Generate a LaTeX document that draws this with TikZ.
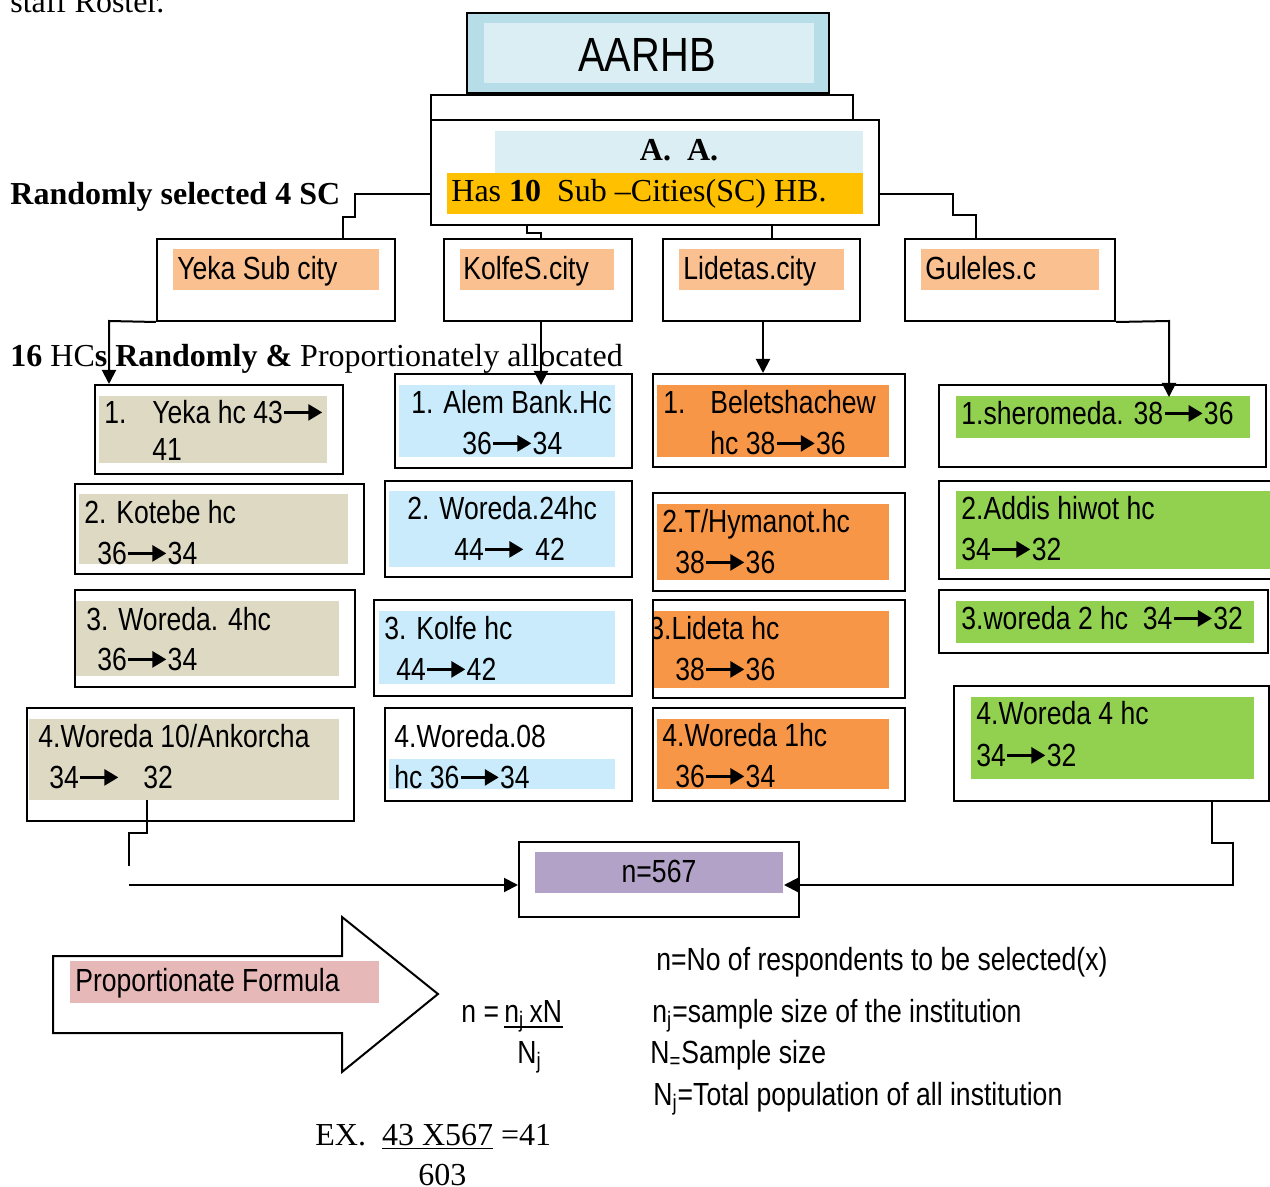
\documentclass[tikz,border=0pt]{standalone}
\usepackage{fontspec}
\setmainfont{Liberation Serif}
\newfontfamily\nar[FakeStretch=0.83]{Liberation Sans}
\usetikzlibrary{arrows.meta,fit}
\definecolor{aaout}{HTML}{B7DDE8}
\definecolor{aain}{HTML}{DAEEF3}
\definecolor{gold}{HTML}{FFC000}
\definecolor{peach}{HTML}{FAC090}
\definecolor{tan}{HTML}{DDD9C3}
\definecolor{lblue}{HTML}{C9EBFB}
\definecolor{orng}{HTML}{F79646}
\definecolor{grn}{HTML}{92D050}
\definecolor{purp}{HTML}{B2A2C7}
\definecolor{pink}{HTML}{E6B9B8}
\newcommand\harr{\tikz[baseline=-5.6pt]\draw[line width=1.4pt,-{Triangle[length=7pt,width=8pt]}] (0pt,0pt) -- (19pt,0pt);}
\newcommand\bx[5]{\node[boxst, fit={(#2,#3) (#4,#5)}] (#1) {};}
\newcommand\fl[5]{\fill[#1] (#2,#3) rectangle (#4,#5);}
\begin{document}
\begin{tikzpicture}[x=0.5pt,y=-0.5pt,
  boxst/.style={draw, line width=1pt, inner sep=0pt},
  txt/.style={anchor=base west, inner sep=0pt, yshift=-0.8pt, font=\nar\fontsize{16}{19}\selectfont},
  srf/.style={anchor=base west, inner sep=0pt, font=\fontsize{16}{19}\selectfont},
  conn/.style={line width=1pt},
  arr/.style={line width=1pt, -{Triangle[length=7pt,width=7pt]}}]
\useasboundingbox (0,0) rectangle (1270,1187);

% top texts
\node[srf] (roster) at (10,13) {staff Roster.};
\node[srf] (rsel) at (10,205) {\textbf{Randomly selected 4 SC}};
\node[srf] (hcs) at (10,367) {\textbf{16} HC\textbf{s Randomly \&} Proportionately allocated};

% AARHB
\node[boxst, fit={(431,95) (853,120)}] (back) {};
\node[boxst, fill=aaout, fit={(467,13) (829,93)}] (aarhb) {};
\fl{aain}{484}{23}{814}{83}
\node[txt, font=\nar\fontsize{24}{28}\selectfont] (aarhbt) at (578,70) {AARHB};

% A.A.
\node[boxst, fill=white, fit={(431,120) (879,225)}] (aa) {};
\fl{aain}{495}{131}{863}{173}
\fl{gold}{447}{173}{863}{214}
\node[srf, anchor=base] (aat) at (679,161) {\textbf{A.\ \ A.}};
\node[srf] (hast) at (451,202) {Has \textbf{10}\ \ Sub –Cities(SC) HB.};

% sub cities
\bx{yeka}{157}{239}{395}{321}
\fl{peach}{173}{249}{379}{290}
\node[txt] (yekat) at (177,278) {Yeka Sub city};
\bx{kolfe}{444}{239}{632}{321}
\fl{peach}{460}{249}{614}{290}
\node[txt] (kolfet) at (463,278) {KolfeS.city};
\bx{lidetas}{663}{239}{860}{321}
\fl{peach}{679}{249}{844}{290}
\node[txt] (lidetast) at (683,278) {Lidetas.city};
\bx{guleles}{905}{239}{1115}{321}
\fl{peach}{921}{249}{1099}{290}
\node[txt] (gulelest) at (925,278) {Guleles.c};

% column 1
\bx{hc11}{95}{385}{343}{474}
\fl{tan}{99}{396}{327}{463}
\node[txt] (a1) at (104,422) {1.};
\node[txt] (a2) at (152,422) {Yeka hc 43\harr};
\node[txt] (a3) at (152,459) {41};
\bx{hc12}{75}{484}{364}{574}
\fl{tan}{79}{494}{348}{564}
\node[txt] (b1) at (84,522) {2. Kotebe hc};
\node[txt] (b2) at (97,563) {36\harr34};
\bx{hc13}{75}{590}{355}{687}
\fl{tan}{76}{601}{339}{676}
\node[txt] (c1) at (86,629) {3. Woreda. 4hc};
\node[txt] (c2) at (97,669) {36\harr34};
\bx{hc14}{27}{708}{354}{821}
\fl{tan}{29}{719}{339}{800}
\node[txt] (d1) at (38,746) {4.Woreda 10/Ankorcha};
\node[txt] (d2) at (49,787) {34\harr};
\node[txt] (d3) at (143,787) {32};

% column 2
\bx{hc21}{395}{374}{632}{468}
\fl{lblue}{399}{385}{615}{457}
\node[txt] (e1) at (411,412) {1. Alem Bank.Hc};
\node[txt] (e2) at (462,453) {36\harr34};
\bx{hc22}{385}{481}{632}{577}
\fl{lblue}{389}{491}{615}{567}
\node[txt] (f1) at (407,518) {2. Woreda.24hc};
\node[txt] (f2) at (454,559) {44\harr};
\node[txt] (f3) at (535,559) {42};
\bx{hc23}{374}{600}{632}{696}
\fl{lblue}{379}{611}{615}{684}
\node[txt] (g1) at (384,638) {3. Kolfe hc};
\node[txt] (g2) at (396,679) {44\harr42};
\bx{hc24}{385}{708}{632}{801}
\fl{lblue}{389}{759}{615}{789}
\node[txt] (h1) at (394,746) {4.Woreda.08};
\node[txt] (h2) at (394,787) {hc 36\harr34};

% column 3
\bx{hc31}{653}{374}{905}{467}
\fl{orng}{657}{385}{889}{457}
\node[txt] (i1) at (663,412) {1.};
\node[txt] (i2) at (710,412) {Beletshachew};
\node[txt] (i3) at (710,453) {hc 38\harr36};
\bx{hc32}{653}{493}{905}{591}
\fl{orng}{657}{504}{889}{580}
\node[txt] (j1) at (662,531) {2.T/Hymanot.hc};
\node[txt] (j2) at (675,572) {38\harr36};
\bx{hc33}{653}{600}{905}{698}
\fl{orng}{654}{611}{889}{688}
\begin{scope}
\clip (654,600) rectangle (905,698);
\node[txt] (k1) at (649,638) {3.Lideta hc};
\end{scope}
\node[txt] (k2) at (675,679) {38\harr36};
\bx{hc34}{653}{708}{905}{801}
\fl{orng}{657}{719}{889}{789}
\node[txt] (l1) at (662,745) {4.Woreda 1hc};
\node[txt] (l2) at (675,786) {36\harr34};

% column 4
\bx{hc41}{939}{385}{1266}{467}
\fl{grn}{956}{396}{1250}{438}
\node[txt] (m1) at (961,423) {1.sheromeda. 38\harr36};
\bx{hc42}{939}{481}{1285}{579}
\fl{grn}{956}{491}{1285}{569}
\node[txt] (n1) at (961,518) {2.Addis hiwot hc};
\node[txt] (n2) at (961,559) {34\harr32};
\bx{hc43}{939}{590}{1268}{653}
\fl{grn}{956}{601}{1254}{643}
\node[txt] (o1) at (961,628) {3.woreda 2 hc\ \ 34\harr32};
\bx{hc44}{954}{686}{1269}{801}
\fl{grn}{971}{697}{1254}{779}
\node[txt] (p1) at (976,723) {4.Woreda 4 hc};
\node[txt] (p2) at (976,765) {34\harr32};

% n box
\bx{nbox}{519}{842}{799}{917}
\fl{purp}{535}{852}{783}{893}
\node[txt, anchor=base] (nt) at (659,881) {n=567};

% connectors top
\draw[conn] (aa.west |- 0,194) -- (355,194) -- (355,217) -- (343,217) -- (yeka.north -| 343,0);
\draw[conn] (aa.south -| 527,0) -- (527,233) -- (541,233) -- (kolfe.north -| 541,0);
\draw[conn] (aa.south -| 772,0) -- (lidetas.north -| 772,0);
\draw[conn] (aa.east |- 0,194) -- (953,194) -- (953,215) -- (976,215) -- (guleles.north -| 976,0);

\draw[arr] (yeka.south west) -- (109,321) -- (hc11.north -| 109,0);
\draw[arr] (kolfe.south -| 541,0) -- (541,385);
\draw[arr] (lidetas.south -| 763,0) -- (hc31.north -| 763,0);
\draw[arr] (guleles.south east) -- (1169,321) -- (1169,397);

% connectors bottom
\draw[conn] (147,800) -- (hc14.south -| 147,0) -- (147,833) -- (129,833) -- (129,866);
\draw[arr] (129,885) -- (nbox.west |- 0,885);
\draw[arr] (hc44.south -| 1212,0) -- (1212,843) -- (1233,843) -- (1233,885) -- (784,885);

% big arrow
\draw[line width=1pt] (53,956) -- (342,956) -- (342,917) -- (438,994) -- (342,1072) -- (342,1033) -- (53,1033) -- cycle;
\fl{pink}{70}{961}{379}{1003}
\node[txt] (pf) at (75,990) {Proportionate Formula};

% formula
\node[txt] (fm1) at (461,1021) {n =};
\node[txt] (fm1b) at (504,1021) {n\textsubscript{j}\,xN};
\draw[line width=0.8pt] ([yshift=-2.2pt]fm1b.base west) -- ([yshift=-2.2pt]fm1b.base east);
\node[txt] (fm2) at (517,1062) {N\textsubscript{j}};
\node[txt] (df1) at (656,969) {n=No of respondents to be selected(x)};
\node[txt] (df2) at (652,1021) {n\textsubscript{j}=sample size of the institution};
\node[txt] (df3) at (650,1062) {N\textsubscript{=}Sample size};
\node[txt] (df4) at (653,1104) {N\textsubscript{j}=Total population of all institution};
\node[srf] (ex1) at (315,1145) {EX.\ \ \underline{43 X567} =41};
\node[srf] (ex2) at (418,1185) {603};
\end{tikzpicture}
\end{document}
